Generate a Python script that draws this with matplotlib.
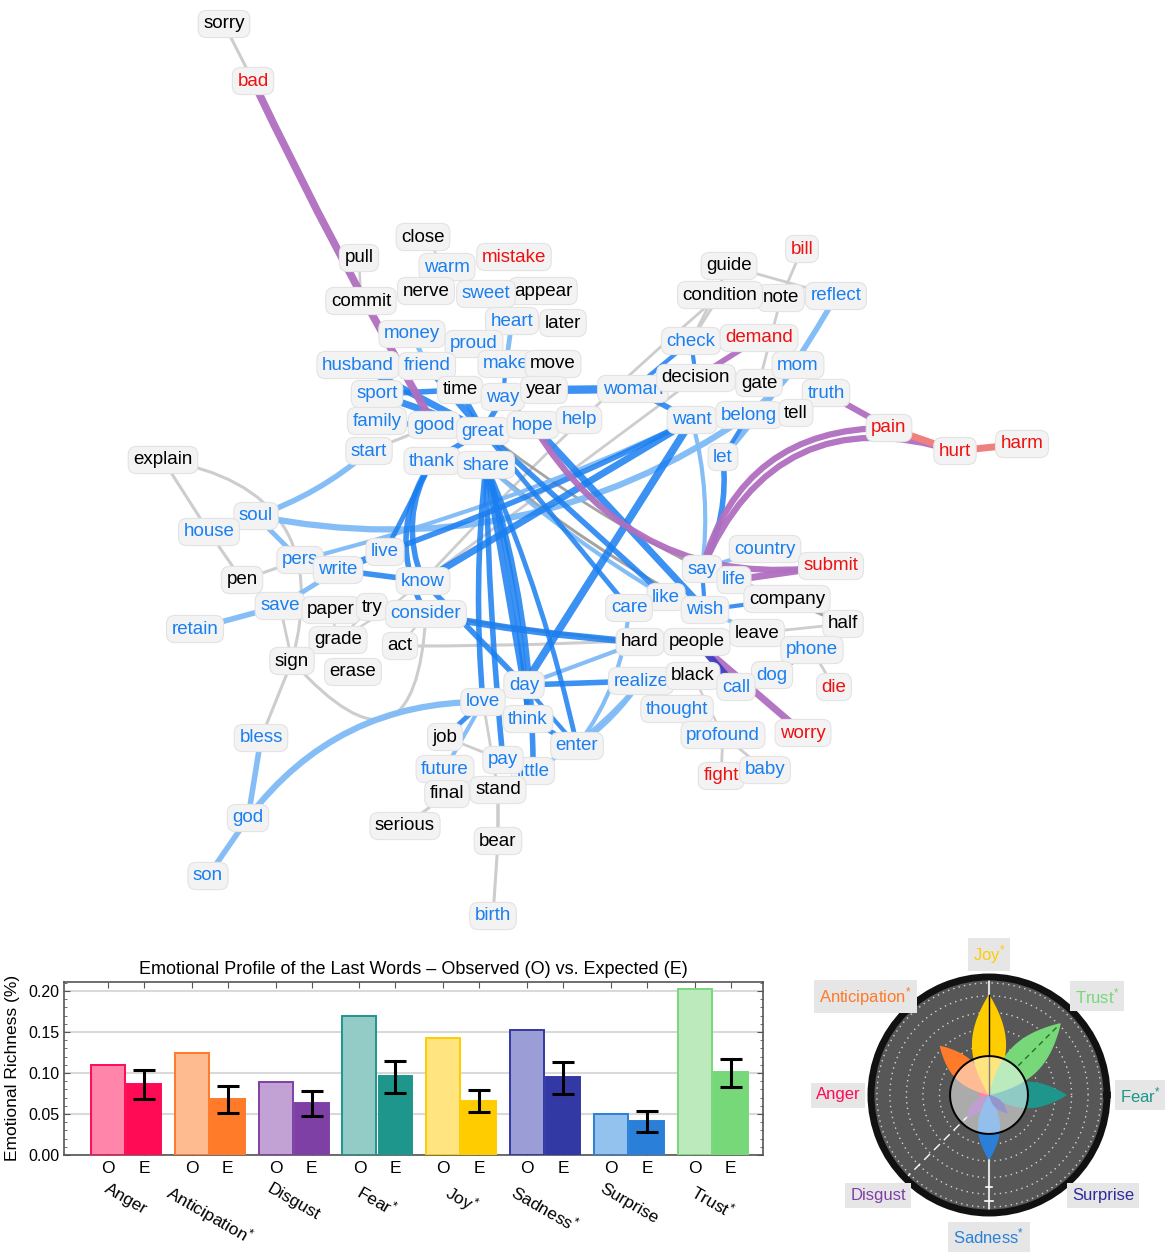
import numpy as np
import matplotlib
matplotlib.use("Agg")
import matplotlib.pyplot as plt
from matplotlib.path import Path
from matplotlib.patches import PathPatch
from matplotlib.ticker import MultipleLocator, FormatStrFormatter

FONT = "Liberation Sans"
plt.rcParams["font.family"] = [FONT, "DejaVu Sans"]
plt.rcParams["mathtext.fontset"] = "custom"
plt.rcParams["mathtext.rm"] = FONT
plt.rcParams["mathtext.it"] = FONT

# ------------------------------------------------------------------ data
# word network (layout positions in pixels of the top panel)
words = ["sorry", "bad", "close", "pull", "warm", "mistake", "commit", "nerve", "appear",
         "sweet", "heart", "later", "money", "proud", "husband", "friend", "make", "move",
         "time", "way", "year", "sport", "family", "good", "great", "hope", "help", "start",
         "thank", "share", "woman", "decision", "gate", "guide", "note", "condition", "bill",
         "reflect", "check", "demand", "mom", "truth", "want", "belong", "tell", "let",
         "pain", "hurt", "harm", "explain", "soul", "house", "pers", "write", "live", "pen",
         "know", "save", "paper", "try", "consider", "retain", "grade", "act", "sign", "erase",
         "country", "say", "submit", "life", "like", "company", "care", "wish", "half",
         "leave", "hard", "people", "phone", "dog", "realize", "black", "call", "die",
         "thought", "worry", "profound", "fight", "baby", "day", "love", "think", "job",
         "enter", "little", "pay", "future", "final", "stand", "serious", "bear", "birth",
         "bless", "god", "son"]
word_x = [224, 253, 423, 359, 447, 514, 361, 426, 543,
          486, 512, 563, 412, 474, 358, 427, 506, 553,
          460, 503, 544, 377, 377, 434, 483, 533, 579, 369,
          432, 486, 633, 696, 759, 729, 781, 720, 802,
          836, 691, 759, 798, 826, 692, 749, 796, 723,
          889, 955, 1022, 163, 256, 209, 300, 338, 385, 242,
          423, 280, 331, 372, 426, 195, 338, 400, 292, 353,
          765, 702, 831, 734, 666, 787, 629, 705, 843,
          757, 640, 697, 812, 772, 641, 693, 736, 834,
          677, 803, 723, 721, 765, 524, 483, 528, 445,
          577, 533, 503, 445, 447, 498, 405, 498, 493,
          261, 248, 208]
word_y = [24, 81, 237, 258, 267, 257, 301, 291, 291,
          294, 321, 323, 334, 344, 365, 366, 364, 364,
          390, 397, 390, 394, 421, 425, 431, 425, 420, 451,
          461, 465, 389, 378, 383, 266, 298, 295, 249,
          296, 341, 338, 365, 393, 420, 415, 413, 457,
          428, 451, 444, 460, 516, 532, 560, 570, 552, 580,
          581, 606, 610, 607, 614, 629, 640, 646, 661, 672,
          549, 569, 566, 580, 597, 599, 608, 610, 624,
          633, 642, 642, 650, 675, 681, 676, 687, 687,
          709, 733, 735, 776, 770, 685, 702, 719, 737,
          746, 771, 760, 769, 794, 790, 826, 841, 916,
          738, 818, 876]
neg_words = {"bad", "mistake", "bill", "demand", "pain", "hurt", "harm", "submit", "die",
             "worry", "fight"}
neu_words = {"sorry", "close", "pull", "commit", "nerve", "appear", "later", "move", "time",
             "year", "decision", "gate", "guide", "condition", "note", "tell", "explain",
             "pen", "paper", "try", "grade", "act", "sign", "erase", "company", "half",
             "leave", "hard", "people", "black", "job", "final", "stand", "serious", "bear"}

# edges: (word, word, weight, bend)
gray_edges = [("sorry", "bad", 2.2, 0), ("pull", "commit", 1.8, 0), ("close", "warm", 1.5, 0),
              ("explain", "house", 2.2, 0), ("explain", "sign", 2.2, -0.55),
              ("house", "pen", 2.2, 0), ("pen", "pers", 2.2, 0), ("sign", "bless", 2.2, 0),
              ("save", "sign", 2.0, 0), ("sign", "consider", 2.2, 1.2),
              ("paper", "grade", 1.6, 0), ("grade", "know", 1.6, 0.05), ("try", "grade", 1.6, 0),
              ("act", "leave", 2.2, 0.02), ("consider", "act", 1.6, 0),
              ("condition", "know", 2.0, 0.03), ("decision", "know", 2.0, 0),
              ("condition", "check", 2.0, 0), ("guide", "check", 2.0, 0),
              ("guide", "reflect", 2.0, 0), ("bill", "note", 2.0, 0), ("note", "gate", 2.0, 0),
              ("leave", "half", 2.0, 0), ("phone", "die", 2.0, 0), ("profound", "fight", 2.0, 0),
              ("profound", "baby", 2.0, 0), ("black", "profound", 1.6, 0), ("job", "pay", 2.0, 0),
              ("future", "stand", 1.6, 0), ("final", "serious", 2.2, 0), ("stand", "bear", 2.6, 0),
              ("bear", "birth", 2.2, 0), ("start", "good", 2.2, 0), ("love", "stand", 2.0, 0)]
dgray_edges = [("company", "half", 2.2, 0), ("share", "wish", 2.2, 0.05),
               ("great", "say", 2.0, 0.05), ("consider", "hard", 2.4, 0.02)]
lblue_edges = [("money", "friend", 3.5, 0), ("heart", "sweet", 3.0, 0), ("heart", "make", 3.5, 0),
               ("warm", "sweet", 2.0, 0), ("soul", "start", 4.0, 0.1), ("soul", "belong", 4.5, 0.21),
               ("soul", "pers", 3.5, 0), ("pers", "want", 3.0, 0.05), ("save", "write", 3.5, 0),
               ("retain", "save", 4.0, 0), ("love", "god", 4.5, 0.25), ("bless", "god", 4.0, 0),
               ("god", "son", 4.0, 0), ("future", "love", 3.0, 0), ("reflect", "let", 4.0, -0.05),
               ("mom", "belong", 3.0, 0), ("mom", "let", 3.0, 0), ("country", "say", 3.0, 0),
               ("life", "company", 3.0, 0), ("wish", "leave", 3.0, 0), ("leave", "phone", 3.0, 0),
               ("dog", "call", 3.0, 0), ("enter", "care", 3.0, 0.15), ("enter", "realize", 3.0, 0.1),
               ("realize", "little", 3.0, -0.1), ("day", "hard", 3.0, 0), ("share", "like", 3.0, 0.05),
               ("want", "say", 3.0, -0.1)]
blue_edges = [("year", "woman", 6.0, 0), ("woman", "want", 4.0, 0), ("woman", "decision", 3.0, 0),
              ("check", "woman", 3.0, 0), ("check", "decision", 3.0, 0), ("want", "belong", 3.0, 0),
              ("want", "know", 5.0, 0), ("want", "day", 5.5, 0), ("live", "want", 4.0, 0.03),
              ("let", "say", 4.0, -0.15), ("belong", "let", 3.0, 0), ("husband", "great", 5.0, 0),
              ("friend", "great", 5.0, 0), ("sport", "great", 5.0, 0), ("sport", "time", 4.0, 0),
              ("family", "great", 4.0, 0), ("good", "great", 5.0, 0), ("time", "great", 4.0, 0),
              ("great", "way", 4.0, 0), ("great", "hope", 4.0, 0), ("proud", "make", 3.0, 0),
              ("make", "way", 3.0, 0), ("way", "hope", 3.0, 0), ("proud", "friend", 3.0, 0),
              ("thank", "great", 4.0, 0), ("thank", "share", 3.0, 0), ("thank", "know", 4.0, 0.25),
              ("thank", "live", 3.5, 0), ("thank", "consider", 4.0, 0.3), ("hope", "wish", 5.0, 0),
              ("great", "like", 4.0, 0), ("share", "day", 4.5, 0), ("share", "love", 4.0, 0.05),
              ("share", "think", 4.0, -0.05), ("share", "little", 4.0, -0.08),
              ("share", "pay", 4.0, 0.02), ("share", "enter", 3.5, -0.05), ("great", "care", 3.5, 0),
              ("write", "live", 5.0, 0), ("write", "know", 4.0, 0), ("consider", "hard", 5.0, 0.03),
              ("know", "day", 4.0, 0), ("day", "realize", 4.0, 0), ("day", "think", 3.0, 0),
              ("love", "day", 3.0, 0), ("job", "love", 3.5, 0), ("think", "enter", 3.5, 0),
              ("day", "enter", 3.0, 0), ("say", "wish", 3.0, 0), ("wish", "company", 3.0, 0),
              ("phone", "dog", 3.0, 0), ("like", "wish", 3.0, 0)]
purple_edges = [("bad", "good", 5.5, 0.02), ("hope", "submit", 4.5, 0.33), ("submit", "life", 5.0, 0),
                ("demand", "decision", 4.0, 0), ("truth", "pain", 4.5, 0), ("pain", "say", 4.5, 0.38),
                ("hurt", "say", 4.5, 0.45), ("people", "worry", 5.0, 0)]
salmon_edges = [("pain", "hurt", 5.0, 0), ("hurt", "harm", 5.0, 0)]
indigo_edges = [("call", "people", 5.0, 0)]

# emotional profile
emotions = ["Anger", "Anticipation", "Disgust", "Fear", "Joy", "Sadness", "Surprise", "Trust"]
significant = [False, True, False, True, True, True, False, True]
observed = [0.110, 0.124, 0.089, 0.169, 0.143, 0.153, 0.050, 0.203]
expected = [0.086, 0.068, 0.064, 0.096, 0.066, 0.095, 0.041, 0.101]
expected_lo = [0.068, 0.051, 0.048, 0.076, 0.052, 0.075, 0.028, 0.083]
expected_hi = [0.104, 0.084, 0.078, 0.115, 0.079, 0.113, 0.054, 0.117]

# flower (relative petal length per emotion, same order)
petal_length = [0.10, 0.59, 0.27, 0.66, 0.85, 0.55, 0.22, 0.86]
petal_angle = [180, 135, 225, 0, 90, 270, 315, 45]

# ------------------------------------------------------------------ styles
light_cols = ["#ff86aa", "#ffbb90", "#c2a2d4", "#93cbc6", "#ffe480", "#9b9dd6", "#93c2ee", "#bceabd"]
dark_cols = ["#ff0a55", "#ff7a29", "#7f40a6", "#1f968b", "#ffcc00", "#3339a4", "#2a80d8", "#77d87a"]
flower_cols = ["#ff0a55", "#ff7a29", "#7f40a6", "#1f968b", "#ffcc00", "#2a80d8", "#2b2b9e", "#77d87a"]

W, H = 1170, 1256
fig = plt.figure(figsize=(W / 100, H / 100), dpi=100)

def lab(name, star):
    return name + (r"$^{*}$" if star else "")

# ------------------------------------------------------------------ network
NH = 940
ax_net = fig.add_axes([0, 1 - NH / H, 1, NH / H])
ax_net.set_xlim(0, W)
ax_net.set_ylim(NH, 0)
ax_net.axis("off")
pos = {w: (x, y) for w, x, y in zip(words, word_x, word_y)}

def draw_edges(edges, color, alpha, z):
    for a, b, wgt, bend in edges:
        x0, y0 = pos[a]
        x1, y1 = pos[b]
        dx, dy = x1 - x0, y1 - y0
        cx = (x0 + x1) / 2 - bend * dy
        cy = (y0 + y1) / 2 + bend * dx
        p = Path([(x0, y0), (cx, cy), (x1, y1)], [Path.MOVETO, Path.CURVE3, Path.CURVE3])
        ax_net.add_patch(PathPatch(p, fill=False, ec=color, lw=wgt, alpha=alpha, zorder=z,
                                   capstyle="round"))

draw_edges(gray_edges, "#cdcdcd", 1.0, 1)
draw_edges(dgray_edges, "#9a9a9a", 0.9, 1.5)
draw_edges(lblue_edges, "#7fbaf6", 0.95, 2)
draw_edges(blue_edges, "#1a7ff0", 0.85, 3)
draw_edges(purple_edges, "#b06fc0", 0.95, 3.5)
draw_edges(salmon_edges, "#f0807e", 1.0, 3.5)
draw_edges(indigo_edges, "#3d3dc2", 0.95, 3.5)

for i, w in enumerate(words):
    col = "#ee1111" if w in neg_words else ("black" if w in neu_words else "#1a7ff0")
    ax_net.text(pos[w][0], pos[w][1], w, fontsize=13.5, color=col, ha="center", va="center",
                zorder=10 + i * 0.01,
                bbox=dict(boxstyle="round,pad=0.27,rounding_size=0.45", fc="#f3f3f3",
                          ec="#e3e3e3", lw=0.8))

# ------------------------------------------------------------------ bar chart
ax = fig.add_axes([64 / W, 1 - 1155 / H, (763 - 64) / W, (1155 - 982) / H])
xc = np.arange(len(emotions))
off, bw = 0.215, 0.405
ax.bar(xc - off, observed, bw, color=light_cols, edgecolor=dark_cols, lw=1.4, zorder=3)
ax.bar(xc + off, expected, bw, color=dark_cols, edgecolor=dark_cols, lw=1.4, zorder=3)
exp = np.array(expected)
ax.errorbar(xc + off, exp, yerr=[exp - np.array(expected_lo), np.array(expected_hi) - exp],
            fmt="none", ecolor="black", elinewidth=2.2, capsize=8, capthick=2.2, zorder=4)
ax.set_xlim(-0.74, 7.6)
ax.set_ylim(0, 0.211)
ax.set_yticks([0, 0.05, 0.10, 0.15, 0.20])
ax.yaxis.set_major_formatter(FormatStrFormatter("%.2f"))
ax.yaxis.set_minor_locator(MultipleLocator(0.01))
ticks = np.ravel(np.column_stack([xc - off, xc + off]))
ax.set_xticks(ticks)
ax.set_xticklabels(["O", "E"] * len(emotions))
ax.tick_params(axis="both", direction="in", colors="#555555", labelcolor="black",
               labelsize=11.5, top=True, right=True, length=4)
ax.tick_params(axis="x", labelsize=12.5, pad=4)
ax.tick_params(axis="y", which="minor", direction="in", length=2, right=True, colors="#555555")
for s in ax.spines.values():
    s.set_color("#555555")
    s.set_linewidth(1.2)
ax.grid(axis="y", color="#d9d9d9", lw=1.5, zorder=0)
ax.set_axisbelow(True)
ax.set_title("Emotional Profile of the Last Words \u2013 Observed (O) vs. Expected (E)",
             fontsize=13, pad=6)
for i, (e, s) in enumerate(zip(emotions, significant)):
    ax.text(i, -0.15, lab(e, s), transform=ax.get_xaxis_transform(), rotation=-30,
            ha="center", va="top", fontsize=12.5)
fig.text(13 / W, 1 - 1068 / H, "Emotional Richness (%)", rotation=90, ha="center",
         va="center", fontsize=12.5)

# ------------------------------------------------------------------ flower
R = 118
axp = fig.add_axes([(989 - R) / W, 1 - (1095 + R) / H, 2 * R / W, 2 * R / H], projection="polar")
axp.set_facecolor("#575757")
axp.set_ylim(0, 1)
axp.set_xticks([])
axp.set_yticks([])
axp.grid(False)
axp.spines["polar"].set_linewidth(5)
axp.spines["polar"].set_color("#111111")
tt = np.linspace(0, 2 * np.pi, 500)
for r in [0.42, 0.56, 0.70, 0.84, 0.95]:
    axp.plot(tt, np.full_like(tt, r), ls=(0, (1, 3)), color="white", lw=1, alpha=0.75, zorder=1)
axp.plot([np.pi / 2] * 2, [0, 1], color="#e0e0e0", lw=1.5, zorder=1)
axp.plot([3 * np.pi / 2] * 2, [0, 1], color="#e0e0e0", lw=1.5, zorder=1)
axp.plot([np.radians(225)] * 2, [0, 1], color="white", ls=(0, (6, 4)), lw=1, zorder=1)
for rr in [0.78, 0.9]:
    axp.plot([np.radians(268), np.radians(272)], [rr, rr], color="white", lw=1.2, zorder=1)

t = np.linspace(0.002, 1, 80)
for L, ang, c in zip(petal_length, petal_angle, flower_cols):
    a = np.radians(ang)
    u = np.r_[L * t, (L * t)[::-1]]
    hw = 0.17 * L * np.sin(np.pi * t) ** 0.9
    v = np.r_[hw, -hw[::-1]]
    X = u * np.cos(a) - v * np.sin(a)
    Y = u * np.sin(a) + v * np.cos(a)
    th = np.unwrap(np.arctan2(Y, X))
    axp.fill(th, np.hypot(X, Y), color=c, zorder=3, lw=0)
axp.plot([np.pi / 2] * 2, [0, petal_length[4]], color="black", lw=1, zorder=4)
axp.plot([np.pi / 4] * 2, [0.35, petal_length[7] - 0.04], color="#2d6a2d", ls=(0, (4, 3)),
         lw=1, zorder=4)
axp.fill(tt, np.full_like(tt, 0.33), color="white", alpha=0.5, zorder=5, lw=0)
axp.plot(tt, np.full_like(tt, 0.33), color="black", lw=1.4, zorder=6)

label_place = [(180, 1.28), (141.4, 1.34), (-137.7, 1.27), (0, 1.28), (90, 1.19),
               (-90, 1.20), (-41.5, 1.29), (42.5, 1.24)]
for (deg, rr), e, s, c in zip(label_place, emotions, significant, flower_cols):
    axp.text(np.radians(deg), rr, lab(e, s), color=c, fontsize=12, ha="center", va="center",
             clip_on=False, zorder=10,
             bbox=dict(boxstyle="square,pad=0.3", fc="#e6e6e6", ec="none"))

fig.savefig("out.png", dpi=100)
